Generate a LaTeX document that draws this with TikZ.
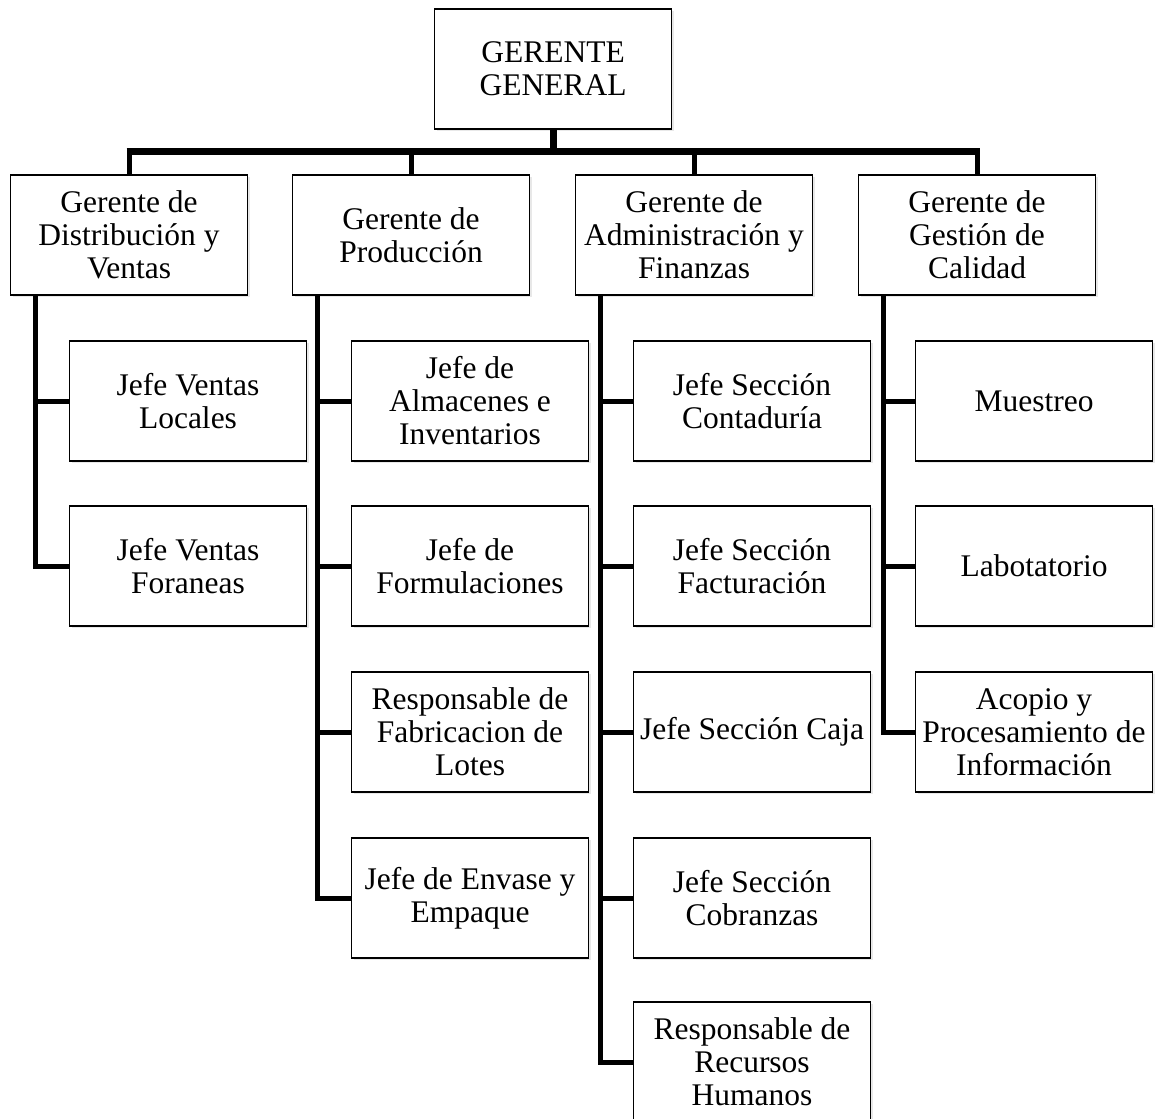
\documentclass[tikz,border=0pt]{standalone}
\usepackage{fontspec}
\setmainfont{Liberation Serif}
\usetikzlibrary{calc, shadows}
\tikzset{%
    caja/.style={rectangle, draw, line width=1.3pt, fill=white, align=center,
        minimum width=237pt, minimum height=120pt, inner sep=1pt,
        font=\fontsize{31.5}{33}\selectfont,
        drop shadow={opacity=0.18, shadow xshift=2pt, shadow yshift=-2pt}},
    pri/.style={line width = 7pt},
    sec/.style={line width = 5pt, line join=miter},
}
\begin{document}
\begin{tikzpicture}[x=1pt, y=-1pt]
    \path [use as bounding box, clip] (0,0) rectangle (1155,1118);
    % nivel superior
    \node [caja] (GG) at (553,69) {GERENTE\\GENERAL};
    % gerencias
    \node [caja] (D) at (129,235) {Gerente de\\Distribución y\\Ventas};
    \node [caja] (P) at (411,235) {Gerente de\\Producción};
    \node [caja] (A) at (694,235) {Gerente de\\Administración y\\Finanzas};
    \node [caja] (C) at (977,235) {Gerente de\\Gestión de\\Calidad};
    % jefaturas
    \node [caja] (D1) at (188,401) {Jefe Ventas\\Locales};
    \node [caja] (D2) at (188,566) {Jefe Ventas\\Foraneas};
    \node [caja] (P1) at (470,401) {Jefe de\\Almacenes e\\Inventarios};
    \node [caja] (P2) at (470,566) {Jefe de\\Formulaciones};
    \node [caja] (P3) at (470,732) {Responsable de\\Fabricacion de\\Lotes};
    \node [caja] (P4) at (470,898) {Jefe de Envase y\\Empaque};
    \node [caja] (A1) at (752,401) {Jefe Sección\\Contaduría};
    \node [caja] (A2) at (752,566) {Jefe Sección\\Facturación};
    \node [caja] (A3) at (752,732) {Jefe Sección Caja};
    \node [caja] (A4) at (752,898) {Jefe Sección\\Cobranzas};
    \node [caja] (A5) at (752,1062) {Responsable de\\Recursos\\Humanos};
    \node [caja] (C1) at (1034,401) {Muestreo};
    \node [caja] (C2) at (1034,566) {Labotatorio};
    \node [caja] (C3) at (1034,732) {Acopio y\\Procesamiento de\\Información};
    % barra principal
    \coordinate (B) at (0,152);
    \draw [pri] (GG.south) -- (GG.south|-B);
    \draw [pri] ($(D.north|-B)+(-2.5,0)$) -- ($(C.north|-B)+(2.5,0)$);
    \foreach \n in {D,P,A,C}
        \draw [sec] (\n.north) -- (\n.north|-B);
    % lineas verticales
    \foreach \n/\m in {D/D2,P/P4,A/A5,C/C3}{
        \coordinate (\n x) at ($(\n.south west)+(26,0)$);
        \draw [sec] (\n x) |- (\m.west);
    }
    \foreach \n/\m in {D/D1,P/P1,P/P2,P/P3,A/A1,A/A2,A/A3,A/A4,C/C1,C/C2}
        \draw [sec] (\n x|-\m.west) -- (\m.west);
\end{tikzpicture}
\end{document}
